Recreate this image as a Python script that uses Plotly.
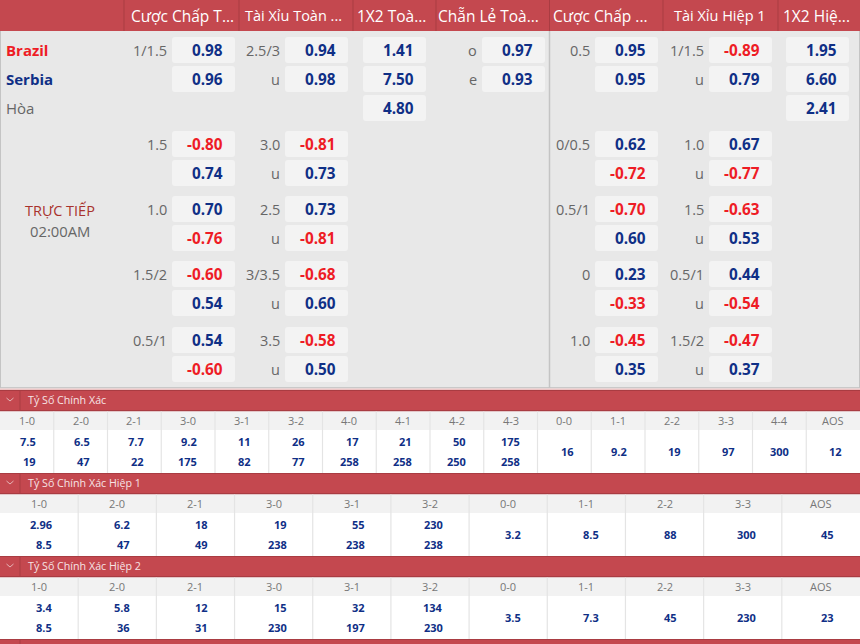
import plotly.graph_objects as go

W, H = 860, 644
RED_BAR = "#c4484f"
DARK_RED = "#a93c42"
BLUE = "#0f2f86"
RED = "#ee1c25"
GRAY = "#666666"
FONT = "Open Sans"

# ---------- data ----------
headers = ["Cược Chấp T...", "Tài Xỉu Toàn ...", "1X2 Toà...", "Chẵn Lẻ Toà...",
           "Cược Chấp ...", "Tài Xỉu Hiệp 1", "1X2 Hiệ..."]
teams = ["Brazil", "Serbia", "Hòa"]

hdp_ft_labels = ["1/1.5", "", "1.5", "", "1.0", "", "1.5/2", "", "0.5/1", ""]
hdp_ft_values = ["0.98", "0.96", "-0.80", "0.74", "0.70", "-0.76", "-0.60", "0.54", "0.54", "-0.60"]
ou_ft_labels = ["2.5/3", "u", "3.0", "u", "2.5", "u", "3/3.5", "u", "3.5", "u"]
ou_ft_values = ["0.94", "0.98", "-0.81", "0.73", "0.73", "-0.81", "-0.68", "0.60", "-0.58", "0.50"]
x12_ft_values = ["1.41", "7.50", "4.80"]
oe_labels = ["o", "e"]
oe_values = ["0.97", "0.93"]
hdp_h1_labels = ["0.5", "", "0/0.5", "", "0.5/1", "", "0", "", "1.0", ""]
hdp_h1_values = ["0.95", "0.95", "0.62", "-0.72", "-0.70", "0.60", "0.23", "-0.33", "-0.45", "0.35"]
ou_h1_labels = ["1/1.5", "u", "1.0", "u", "1.5", "u", "0.5/1", "u", "1.5/2", "u"]
ou_h1_values = ["-0.89", "0.79", "0.67", "-0.77", "-0.63", "0.53", "0.44", "-0.54", "-0.47", "0.37"]
x12_h1_values = ["1.95", "6.60", "2.41"]

cs_titles = ["Tỷ Số Chính Xác", "Tỷ Số Chính Xác Hiệp 1", "Tỷ Số Chính Xác Hiệp 2"]
cs_ft_scores = ["1-0", "2-0", "2-1", "3-0", "3-1", "3-2", "4-0", "4-1", "4-2", "4-3",
                "0-0", "1-1", "2-2", "3-3", "4-4", "AOS"]
cs_ft_home = ["7.5", "6.5", "7.7", "9.2", "11", "26", "17", "21", "50", "175",
              "16", "9.2", "19", "97", "300", "12"]
cs_ft_away = ["19", "47", "22", "175", "82", "77", "258", "258", "250", "258"]
cs_half_scores = ["1-0", "2-0", "2-1", "3-0", "3-1", "3-2", "0-0", "1-1", "2-2", "3-3", "AOS"]
cs_h1_home = ["2.96", "6.2", "18", "19", "55", "230", "3.2", "8.5", "88", "300", "45"]
cs_h1_away = ["8.5", "47", "49", "238", "238", "238"]
cs_h2_home = ["3.4", "5.8", "12", "15", "32", "134", "3.5", "7.3", "45", "230", "23"]
cs_h2_away = ["8.5", "36", "31", "230", "197", "230"]

# ---------- layout constants ----------
header_seps = [124, 239, 353, 436, 549.5, 663, 778]
header_centers = [182, 293.5, 391.5, 488.5, 600.5, 719.5, 816]
header_sizes = [15.5, 14.5, 15.5, 15.5, 15.5, 14.5, 15.5]
row_tops = [37, 66, 131, 160, 196, 225, 261, 290, 327, 356]
third_row_top = 95
cell_h = 26
cell_w = 63
pad = 2  # annotations sit about 2px inside their anchor
col_cells = dict(hdp_ft=172, ou_ft=285, x12_ft=363, oe=482, hdp_h1=595, ou_h1=709, x12_h1=786)

shapes, annots = [], []


def rect(x0, y0, x1, y1, fill):
    shapes.append(dict(type="rect", x0=x0, x1=x1, y0=y0, y1=y1, fillcolor=fill,
                       line=dict(width=0), layer="below"))


def vline(x, y0, y1, color, width=1):
    shapes.append(dict(type="line", x0=x, x1=x, y0=y0, y1=y1,
                       line=dict(color=color, width=width), layer="below"))


def rounded(x0, y0, x1, y1, r, fill):
    path = (f"M {x0+r},{y0} L {x1-r},{y0} Q {x1},{y0} {x1},{y0+r} L {x1},{y1-r} Q {x1},{y1} {x1-r},{y1} "
            f"L {x0+r},{y1} Q {x0},{y1} {x0},{y1-r} L {x0},{y0+r} Q {x0},{y0} {x0+r},{y0} Z")
    shapes.append(dict(type="path", path=path, fillcolor=fill, line=dict(width=0), layer="below"))


def text(x, y, s, size, color, anchor="center", bold=False):
    if not s:
        return
    if anchor == "right":
        x += pad
    elif anchor == "left":
        x -= pad
    annots.append(dict(x=x, y=y, xref="x", yref="y", text=f"<b>{s}</b>" if bold else s,
                       showarrow=False, xanchor=anchor, yanchor="middle",
                       font=dict(family=FONT, size=size, color=color)))


# ---------- top block ----------
rect(0, 0, W, 31, RED_BAR)
rect(0, 31, W, 388, "#e8e8e8")
rect(0, 387, W, 388.5, "#c9c9c9")
rect(0, 388.5, W, 390, "#ecc4c4")
vline(549.5, 31, 388, "#c4c4c4", 1.5)
vline(0.5, 31, 388, "#c4c4c4", 1)
vline(859.5, 31, 388, "#c4c4c4", 1)
for x in header_seps:
    vline(x, 0, 31, DARK_RED, 1)
for cx, h, sz in zip(header_centers, headers, header_sizes):
    text(cx, 15.5, h, sz, "#ffffff")

for y, t, c, b in zip([50, 79, 108], teams, [RED, BLUE, GRAY], [True, True, False]):
    text(6, y, t, 15, c, "left", b)
text(60, 210, "TRỰC TIẾP", 14.5, "#a8322d")
text(60, 231, "02:00AM", 14.8, GRAY)


def cell(key, top, value, label=""):
    x0 = col_cells[key]
    rounded(x0, top, x0 + cell_w, top + cell_h, 3, "#f3f3f3")
    color = RED if value.startswith("-") else BLUE
    text(x0 + 51, top + cell_h / 2, value, 15.3, color, "right", True)
    text(x0 - 5, top + cell_h / 2, label, 14.5, GRAY, "right")


for key, labels, values in [("hdp_ft", hdp_ft_labels, hdp_ft_values),
                            ("ou_ft", ou_ft_labels, ou_ft_values),
                            ("hdp_h1", hdp_h1_labels, hdp_h1_values),
                            ("ou_h1", ou_h1_labels, ou_h1_values)]:
    for top, lab, val in zip(row_tops, labels, values):
        cell(key, top, val, lab)
for top, lab, val in zip(row_tops, oe_labels, oe_values):
    cell("oe", top, val, lab)
for key, values in [("x12_ft", x12_ft_values), ("x12_h1", x12_h1_values)]:
    for top, val in zip(row_tops[:2] + [third_row_top], values):
        cell(key, top, val)


# ---------- correct score blocks ----------
def chevron(cx, cy):
    shapes.append(dict(type="path", path=f"M {cx-3.5},{cy-1.5} L {cx},{cy+1.5} L {cx+3.5},{cy-1.5}",
                       line=dict(color="#e6b4b6", width=1), layer="above"))


def section(top, title, scores, home, away, right_off):
    """Section: red bar (20px), score header (20px), white value area (42px)."""
    rect(0, top, W, top + 20, RED_BAR)
    rect(0, top, W, top + 1, DARK_RED)
    rect(0, top + 20, W, top + 21.5, "#a93c42")
    vline(20, top, top + 20, DARK_RED, 1)
    chevron(10, top + 9.5)
    text(28, top + 10, title, 10.7, "#f6e4e5", "left")
    rect(0, top + 21.5, W, top + 40, "#f2f2f2")
    rect(0, top + 40, W, top + 83, "#ffffff")
    n = len(scores)
    w = W / n
    for i, s in enumerate(scores):
        text(w * i + w / 2, top + 30, s, 11, "#777777")
        xr = w * i + right_off
        if i < len(away):
            text(xr, top + 51, home[i], 11, BLUE, "right", True)
            text(xr, top + 71, away[i], 11, BLUE, "right", True)
        else:
            text(xr, top + 61, home[i], 11, BLUE, "right", True)
        if i:
            vline(w * i, top + 21.5, top + 83, "#e4e4e4", 1.2)


section(390, cs_titles[0], cs_ft_scores, cs_ft_home, cs_ft_away, 36)
section(473, cs_titles[1], cs_half_scores, cs_h1_home, cs_h1_away, 52)
section(556, cs_titles[2], cs_half_scores, cs_h2_home, cs_h2_away, 52)
rect(0, 639, W, 644, RED_BAR)
rect(0, 639, W, 640, DARK_RED)
vline(20, 639, 644, DARK_RED, 1)

fig = go.Figure()
fig.add_trace(go.Scatter(x=[0, W], y=[0, H], mode="markers", marker=dict(opacity=0), hoverinfo="skip", showlegend=False))
fig.update_layout(
    width=W, height=H, autosize=False,
    margin=dict(l=0, r=0, t=0, b=0),
    paper_bgcolor="#ffffff", plot_bgcolor="#ffffff",
    xaxis=dict(range=[0, W], visible=False, fixedrange=True),
    yaxis=dict(range=[H, 0], visible=False, fixedrange=True),
    shapes=shapes, annotations=annots, showlegend=False,
)
fig.write_html("out.html", config=dict(displayModeBar=False),
               post_script="document.body.style.margin='0';document.body.style.overflow='hidden';")
